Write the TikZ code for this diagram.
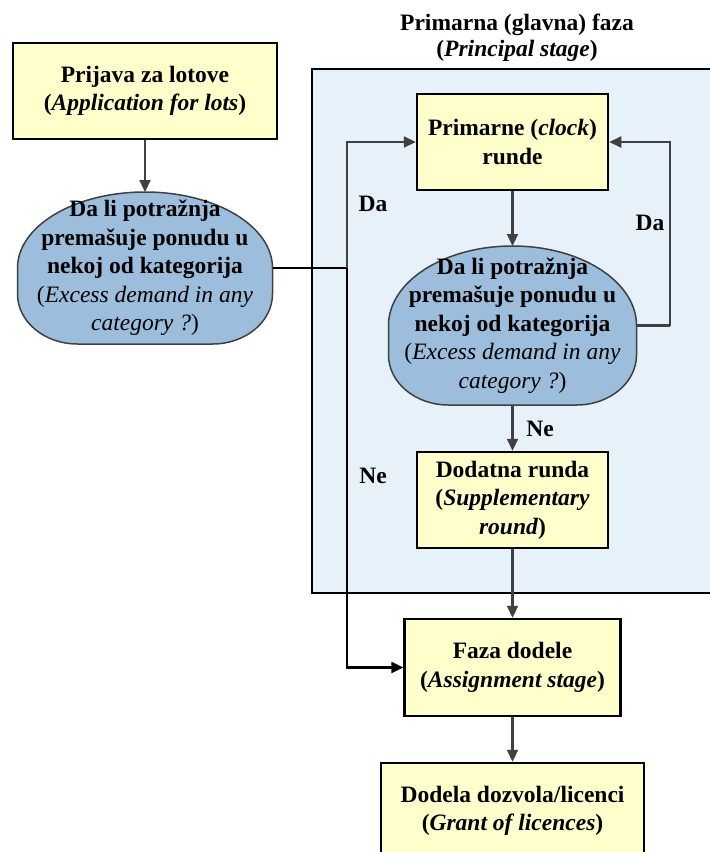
\documentclass[tikz,border=0pt]{standalone}
\usepackage{fontspec}
\setmainfont{Liberation Serif}
\usetikzlibrary{arrows.meta}
\definecolor{boxyellow}{HTML}{FFFFCC}
\definecolor{framefill}{HTML}{E6F1F9}
\definecolor{decfill}{HTML}{9DBDDC}
\definecolor{linegray}{HTML}{404040}
\pgfdeclarelayer{bg}
\pgfsetlayers{bg,main}
\tikzset{
  txt/.style={font=\bfseries\fontsize{23.5}{28.5}\selectfont},
  box/.style={txt, draw=black, line width=2.5pt, fill=boxyellow, align=center, inner sep=0pt},
  decnode/.style={txt, inner sep=0pt, outer sep=0pt, align=center},
  decshape/.style={draw=linegray, line width=1.5pt, fill=decfill},
  garrow/.style={draw=linegray, line width=2.2pt, -{Triangle[length=12pt,width=11pt]}},
  barrow/.style={draw=black, line width=2.5pt, -{Triangle[length=12pt,width=11pt]}},
  gline/.style={draw=linegray, line width=2.2pt},
  bline/.style={draw=black, line width=2.5pt},
  lbl/.style={txt, inner sep=0pt},
}
\begin{document}
\begin{tikzpicture}[x=1pt,y=1pt]
\useasboundingbox (0,0) rectangle (710,-852);

% frame of the principal stage
\begin{pgfonlayer}{bg}
\fill[framefill] (312,-69) rectangle (780,-593);
\draw[line width=2.5pt] (780,-69) -- (312,-69) -- (312,-593) -- (780,-593);
\end{pgfonlayer}
\node[lbl, align=center, font=\bfseries\fontsize{23.5}{26}\selectfont] (title) at (517,-38)
  {Primarna (glavna) faza\\(\textit{Principal stage})};

% nodes
\node[box, minimum width=264pt, minimum height=96pt] (b1) at (145,-91)
  {Prijava za lotove\\(\textit{Application for lots})};

\node[decnode, minimum width=255pt, minimum height=152pt] (d1) at (145,-268)
  {Da li potražnja\\premašuje ponudu u\\nekoj od kategorija\\
   \mdseries(\textit{Excess demand in any}\\\mdseries\textit{category ?})};

\node[box, minimum width=191pt, minimum height=96pt] (p) at (512.5,-142)
  {Primarne (\textit{clock})\\runde};

\node[decnode, minimum width=248pt, minimum height=159pt] (d2) at (512.5,-325.5)
  {Da li potražnja\\premašuje ponudu u\\nekoj od kategorija\\
   \mdseries(\textit{Excess demand in any}\\\mdseries\textit{category ?})};

\node[box, minimum width=191pt, minimum height=96pt] (s) at (512.5,-500)
  {Dodatna runda\\(\textit{Supplementary}\\\textit{round})};

\node[box, minimum width=216pt, minimum height=97pt] (f) at (512.5,-667.5)
  {Faza dodele\\(\textit{Assignment stage})};

\node[box, minimum width=263pt, minimum height=96pt] (g) at (512.5,-811)
  {Dodela dozvola/licenci\\(\textit{Grant of licences})};

% decision shapes (behind their text)
\begin{pgfonlayer}{bg}
\path[decshape] (d1.west) arc[start angle=180, end angle=0, x radius=127.5pt, y radius=76pt]
  -- ([yshift=50pt]d1.south east) arc[start angle=0, end angle=-90, x radius=60pt, y radius=50pt]
  -- ([xshift=60pt]d1.south west) arc[start angle=270, end angle=180, x radius=60pt, y radius=50pt]
  -- cycle;
\path[decshape] (d2.west) arc[start angle=180, end angle=0, x radius=124pt, y radius=79.5pt]
  -- ([yshift=50pt]d2.south east) arc[start angle=0, end angle=-90, x radius=60pt, y radius=50pt]
  -- ([xshift=60pt]d2.south west) arc[start angle=270, end angle=180, x radius=60pt, y radius=50pt]
  -- cycle;
\end{pgfonlayer}

% connectors
\coordinate (J) at (347,-268);
\coordinate (R) at (670,-325.5);
\draw[garrow] (b1.south) -- (d1.north);
\draw[bline] (d1.east) -- (J);
\draw[garrow] (J) |- (p.west);
\draw[barrow] (J) |- (f.west);
\draw[garrow] (p.south) -- (d2.north);
\draw[gline] (d2.east) -- (R);
\draw[garrow] (R) |- (p.east);
\draw[garrow] (d2.south) -- (s.north);
\draw[garrow] (s.south) -- (f.north);
\draw[garrow] (f.south) -- (g.north);

% labels
\node[lbl] (da1) at (373,-204) {Da};
\node[lbl] (ne1) at (373,-476) {Ne};
\node[lbl] (da2) at (650,-223) {Da};
\node[lbl] (ne2) at (540,-429) {Ne};
\end{tikzpicture}
\end{document}
